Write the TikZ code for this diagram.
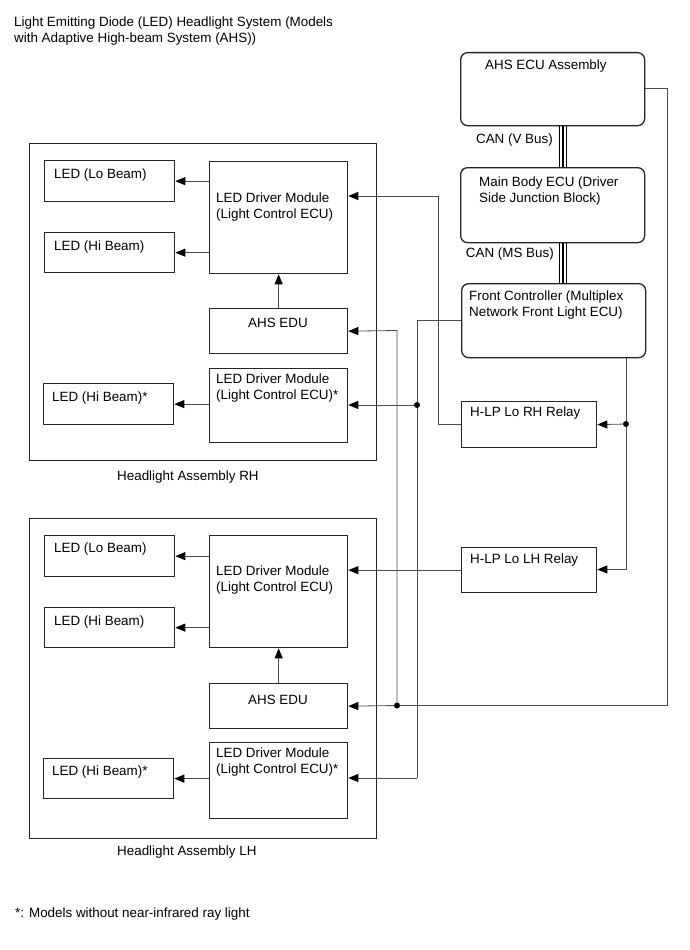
\documentclass[tikz,border=0pt]{standalone}
\usepackage{fontspec}
\setmainfont{Liberation Sans}
\usetikzlibrary{arrows.meta}
\begin{document}
\begin{tikzpicture}[x=1pt,y=-1pt,
  font=\fontsize{13.4}{16}\selectfont,
  box/.style={draw=black!85, line width=1.3pt, rectangle, inner sep=0pt, anchor=north west},
  rbox/.style={box, rounded corners=7pt},
  wire/.style={draw=black!70, line width=0.8pt},
  arr/.style={-{Triangle[length=10pt,width=8pt,black]}},
  bus/.style={draw=black, line width=1.8pt},
  txt/.style={inner sep=0pt, anchor=base west},
  ctxt/.style={inner sep=0pt, anchor=base},
  dot/.style={circle, fill=black, inner sep=0pt, minimum size=6pt}]
\useasboundingbox (0,0) rectangle (689,950);
\fill[white] (0,0) rectangle (689,950);

% title
\node[txt] (title1) at (14,27) {Light Emitting Diode (LED) Headlight System (Models};
\node[txt] (title2) at (14,43) {with Adaptive High-beam System (AHS))};

% assemblies
\node[box, minimum width=347pt, minimum height=317pt] (asmR) at (29,143) {};
\node[box, minimum width=347pt, minimum height=320pt] (asmL) at (29,518) {};
\node[txt] (asmRt) at (117,480) {Headlight Assembly RH};
\node[txt] (asmLt) at (117,855) {Headlight Assembly LH};

% ECUs
\node[rbox, minimum width=184pt, minimum height=73pt] (ahs) at (460,52) {};
\node[rbox, minimum width=184pt, minimum height=75pt] (mb) at (460,167) {};
\node[rbox, minimum width=184pt, minimum height=74pt] (fc) at (461,283) {};
\node[txt] (ahst) at (485,70) {AHS ECU Assembly};
\node[txt] (mbt1) at (479,186) {Main Body ECU (Driver};
\node[txt] (mbt2) at (479,202) {Side Junction Block)};
\node[txt] (fct1) at (469,300) {Front Controller (Multiplex};
\node[txt] (fct2) at (469,316) {Network Front Light ECU)};

% relays
\node[box, minimum width=135pt, minimum height=46pt] (rhr) at (461,401) {};
\node[box, minimum width=135pt, minimum height=45pt] (lhr) at (461,547) {};
\node[txt] (rhrt) at (470,416) {H-LP Lo RH Relay};
\node[txt] (lhrt) at (470,563) {H-LP Lo LH Relay};

% RH internals
\node[box, minimum width=138pt, minimum height=112pt] (drv1) at (209,161) {};
\node[box, minimum width=138pt, minimum height=45pt] (edu1) at (209,308) {};
\node[box, minimum width=138pt, minimum height=74pt] (drs1) at (209,368) {};
\node[box, minimum width=130pt, minimum height=41pt] (lo1) at (44,160) {};
\node[box, minimum width=130pt, minimum height=40pt] (hi1) at (44,232) {};
\node[box, minimum width=130pt, minimum height=41pt] (his1) at (43,383) {};
\node[txt] (drv1t1) at (216,202) {LED Driver Module};
\node[txt] (drv1t2) at (216,218) {(Light Control ECU)};
\node[ctxt] (edu1t) at (278,327) {AHS EDU};
\node[txt] (drs1t1) at (216,383) {LED Driver Module};
\node[txt] (drs1t2) at (216,399) {(Light Control ECU)*};
\node[txt] (lo1t) at (54,178) {LED (Lo Beam)};
\node[txt] (hi1t) at (54,250) {LED (Hi Beam)};
\node[txt] (his1t) at (52,401) {LED (Hi Beam)*};

% LH internals
\node[box, minimum width=138pt, minimum height=112pt] (drv2) at (209,535) {};
\node[box, minimum width=138pt, minimum height=45pt] (edu2) at (209,683) {};
\node[box, minimum width=138pt, minimum height=76pt] (drs2) at (209,742) {};
\node[box, minimum width=130pt, minimum height=41pt] (lo2) at (44,535) {};
\node[box, minimum width=130pt, minimum height=40pt] (hi2) at (44,607) {};
\node[box, minimum width=130pt, minimum height=40pt] (his2) at (43,758) {};
\node[txt] (drv2t1) at (216,575) {LED Driver Module};
\node[txt] (drv2t2) at (216,591) {(Light Control ECU)};
\node[ctxt] (edu2t) at (278,704) {AHS EDU};
\node[txt] (drs2t1) at (216,757) {LED Driver Module};
\node[txt] (drs2t2) at (216,773) {(Light Control ECU)*};
\node[txt] (lo2t) at (54,552) {LED (Lo Beam)};
\node[txt] (hi2t) at (54,625) {LED (Hi Beam)};
\node[txt] (his2t) at (52,775) {LED (Hi Beam)*};

% CAN buses
\coordinate (b1) at (559.5,0);
\coordinate (b2) at (563,0);
\coordinate (b3) at (566.5,0);
\foreach \b in {b1,b2,b3}{
  \draw[bus] (ahs.south -| \b) -- (mb.north -| \b);
  \draw[bus] (mb.south -| \b) -- (fc.north -| \b);
}
\node[inner sep=0pt, anchor=base east] (canv) at (553,143) {CAN (V Bus)};
\node[inner sep=0pt, anchor=base east] (canms) at (554,257) {CAN (MS Bus)};

% internal arrows
\foreach \d/\e/\l/\h/\s/\x in {drv1/edu1/lo1/hi1/his1/drs1, drv2/edu2/lo2/hi2/his2/drs2}{
  \draw[wire,arr] (\e.north) -- (\d.south);
  \draw[wire,arr] (\l.east -| \d.west) -- (\l.east);
  \draw[wire,arr] (\h.east -| \d.west) -- (\h.east);
  \draw[wire,arr] (\s.east -| \x.west) -- (\s.east);
}

% relay to driver modules
\coordinate (j1) at (438,196);
\draw[wire,arr] (rhr.west) -| (j1) -- (j1 -| drv1.east);
\draw[wire,arr] (lhr.west) -- (lhr.west -| drv2.east);

% front controller to driver modules *
\coordinate (k0) at (417,320);
\coordinate (d1) at (417,405);
\coordinate (k2) at (417,778);
\draw[wire] (k0 -| fc.west) -- (k0) -- (k2);
\draw[wire,arr] (k2) -- (k2 -| drs2.east);
\draw[wire,arr] (d1) -- (d1 -| drs1.east);
\node[dot] (dot1) at (d1) {};

% front controller to relays
\coordinate (m1) at (626,424);
\coordinate (m2) at (626,569.5);
\draw[wire] (fc.south -| m1) -- (m2);
\draw[wire,arr] (m2) -- (m2 -| lhr.east);
\draw[wire,arr] (m1) -- (rhr.east);
\node[dot] (dot2) at (m1) {};

% AHS ECU to AHS EDUs
\coordinate (n1) at (667,88);
\coordinate (n2) at (667,705.5);
\coordinate (d3) at (397,705.5);
\coordinate (n3) at (397,330.5);
\draw[wire] (n1 -| ahs.east) -- (n1) -- (n2) -- (d3);
\draw[wire,arr] (d3) -- (edu2.east);
\draw[wire,arr] (d3) -- (n3) -- (edu1.east);
\node[dot] (dot3) at (d3) {};

% footnote
\node[txt] (foot) at (15,917) {*: Models without near-infrared ray light};
\end{tikzpicture}
\end{document}
